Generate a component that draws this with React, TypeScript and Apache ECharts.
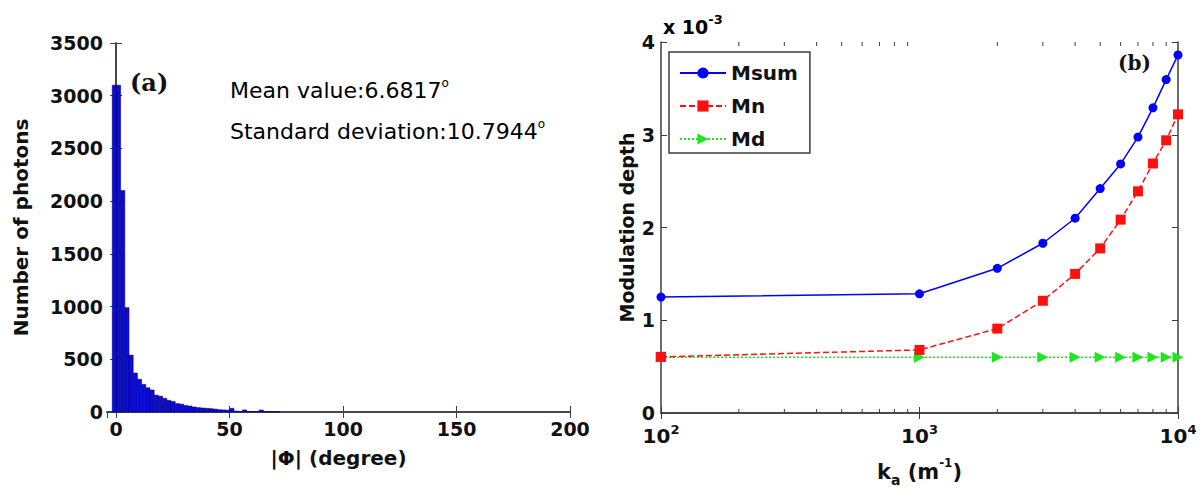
import React, { useEffect, useRef } from "react";
import * as echarts from "echarts";

// ---- Panel (a): histogram of |Φ| ----
const histBinStart = -1.7; // left edge of first bin (degree)
const histBinWidth = 1.85; // bin width (degree)
const histCounts = [
  3100, 3100, 2100, 990, 540, 370, 310, 262, 230, 209, 160, 150, 130, 110, 100,
  80, 75, 62, 57, 48, 42, 38, 35, 32, 28, 22, 20, 18, 35, 8, 5, 20, 5, 4, 5, 19,
  3, 2, 2, 1,
];
const histYTicks = [0, 500, 1000, 1500, 2000, 2500, 3000, 3500];

// ---- Panel (b): modulation depth (×10^-3) vs k_a ----
const kaValues = [100, 1000, 2000, 3000, 4000, 5000, 6000, 7000, 8000, 9000, 10000];
const msum = [1.25, 1.285, 1.56, 1.83, 2.1, 2.42, 2.685, 2.975, 3.29, 3.595, 3.86];
const mn = [0.605, 0.68, 0.91, 1.21, 1.5, 1.775, 2.085, 2.39, 2.69, 2.94, 3.22];
const md = [0.6, 0.6, 0.6, 0.6, 0.6, 0.6, 0.6, 0.6, 0.6, 0.6, 0.6];
const seriesNames = ["Msum", "Mn", "Md"];
const minorTickValues = [
  200, 300, 400, 500, 600, 700, 800, 900, 2000, 3000, 4000, 5000, 6000, 7000, 8000, 9000,
];

const FONT = "DejaVu Sans";
const SERIF = "DejaVu Serif";
const FRAME = "#3c3c3c";

export default function App() {
  const ref = useRef<HTMLDivElement>(null);

  useEffect(() => {
    if (!ref.current) return;
    const chart = echarts.init(ref.current, undefined, { renderer: "svg" });

    const tickLabel = {
      fontFamily: FONT,
      fontWeight: "bold" as const,
      fontSize: 19,
      color: "#111",
    };
    const frameAxisLine = { show: true, lineStyle: { color: FRAME, width: 1.5 } };
    const inTick = { show: true, inside: true, length: 6, lineStyle: { color: FRAME, width: 1 } };

    const histData = histCounts.map((c, i) => [
      histBinStart + i * histBinWidth,
      histBinStart + (i + 1) * histBinWidth,
      c,
    ]);

    const option: any = {
      animation: false,
      backgroundColor: "#fff",
      grid: [
        { left: 107, top: 43, width: 463, height: 369 },
        { left: 661, top: 42, width: 517, height: 371 },
      ],
      xAxis: [
        {
          gridIndex: 0,
          type: "value",
          min: -4,
          max: 200,
          splitNumber: 4,
          position: "bottom",
          axisLine: { show: true, lineStyle: { color: "#2a2ab4", width: 1.5 } },
          axisTick: inTick,
          axisLabel: {
            ...tickLabel,
            margin: 7,
            showMinLabel: false,
            formatter: (v: number) => (v % 50 === 0 ? String(v) : ""),
          },
          splitLine: { show: false },
          name: "|Φ| (degree)",
          nameLocation: "middle",
          nameGap: 36,
          nameTextStyle: { fontFamily: FONT, fontWeight: "bold", fontSize: 20, color: "#111" },
        },
        {
          gridIndex: 0,
          type: "value",
          min: -4,
          max: 200,
          splitNumber: 4,
          position: "top",
          axisLine: frameAxisLine,
          axisTick: inTick,
          axisLabel: { show: false },
          splitLine: { show: false },
        },
        {
          gridIndex: 1,
          type: "log",
          logBase: 10,
          min: 100,
          max: 10000,
          position: "bottom",
          axisLine: frameAxisLine,
          axisTick: inTick,
          axisLabel: {
            margin: 10,
            formatter: (v: number) => `{b|10}{s|${Math.round(Math.log10(v))}}`,
            rich: {
              b: { fontFamily: FONT, fontWeight: "bold", fontSize: 20, color: "#111", lineHeight: 26 },
              s: {
                fontFamily: FONT,
                fontWeight: "bold",
                fontSize: 13,
                color: "#111",
                verticalAlign: "top",
              },
            },
          },
          splitLine: { show: false },
          name: "{k|k}{sub|a}{k| (m}{sup|-1}{k|)}",
          nameLocation: "middle",
          nameGap: 44,
          nameTextStyle: {
            rich: {
              k: { fontFamily: FONT, fontWeight: "bold", fontSize: 21, color: "#111", lineHeight: 30 },
              sub: {
                fontFamily: FONT,
                fontWeight: "bold",
                fontSize: 14,
                color: "#111",
                verticalAlign: "bottom",
              },
              sup: {
                fontFamily: FONT,
                fontWeight: "bold",
                fontSize: 12,
                color: "#111",
                verticalAlign: "top",
              },
            },
          },
        },
        {
          gridIndex: 1,
          type: "log",
          logBase: 10,
          min: 100,
          max: 10000,
          position: "top",
          axisLine: frameAxisLine,
          axisTick: inTick,
          axisLabel: { show: false },
          splitLine: { show: false },
        },
      ],
      yAxis: [
        {
          gridIndex: 0,
          type: "value",
          min: histYTicks[0],
          max: histYTicks[histYTicks.length - 1],
          interval: 500,
          position: "left",
          axisLine: frameAxisLine,
          axisTick: inTick,
          axisLabel: { ...tickLabel, margin: 4, formatter: (v: number) => String(v) },
          splitLine: { show: false },
          name: "Number of photons",
          nameLocation: "middle",
          nameRotate: 90,
          nameGap: 76,
          nameTextStyle: { fontFamily: FONT, fontWeight: "bold", fontSize: 20, color: "#111" },
        },
        {
          gridIndex: 0,
          type: "value",
          min: 0,
          max: 3500,
          interval: 500,
          position: "right",
          axisLine: frameAxisLine,
          axisTick: inTick,
          axisLabel: { show: false },
          splitLine: { show: false },
        },
        {
          gridIndex: 1,
          type: "value",
          min: 0,
          max: 4,
          interval: 1,
          position: "left",
          axisLine: frameAxisLine,
          axisTick: inTick,
          axisLabel: { ...tickLabel, margin: 6, formatter: (v: number) => String(v) },
          splitLine: { show: false },
          name: "Modulation depth",
          nameLocation: "middle",
          nameRotate: 90,
          nameGap: 25,
          nameTextStyle: { fontFamily: FONT, fontWeight: "bold", fontSize: 19, color: "#111" },
        },
        {
          gridIndex: 1,
          type: "value",
          min: 0,
          max: 4,
          interval: 1,
          position: "right",
          axisLine: frameAxisLine,
          axisTick: inTick,
          axisLabel: { show: false },
          splitLine: { show: false },
        },
      ],
      legend: {
        data: seriesNames,
        orient: "vertical",
        left: 669,
        top: 52,
        itemWidth: 46,
        itemHeight: 14,
        itemGap: 13,
        padding: [11, 12, 4, 10],
        borderColor: FRAME,
        borderWidth: 1.5,
        backgroundColor: "#fff",
        textStyle: { fontFamily: FONT, fontWeight: "bold", fontSize: 20, color: "#111" },
      },
      series: [
        {
          type: "custom",
          name: "hist",
          xAxisIndex: 0,
          yAxisIndex: 0,
          data: histData,
          encode: { x: [0, 1], y: 2 },
          renderItem: (_params: any, api: any) => {
            const p0 = api.coord([api.value(0), api.value(2)]);
            const p1 = api.coord([api.value(1), 0]);
            return {
              type: "rect",
              shape: { x: p0[0], y: p0[1], width: p1[0] - p0[0], height: p1[1] - p0[1] },
              style: { fill: "#0b0bd6", stroke: "#00006e", lineWidth: 0.5 },
            };
          },
          z: 1,
        },
        {
          type: "line",
          name: seriesNames[0],
          xAxisIndex: 2,
          yAxisIndex: 2,
          data: kaValues.map((x, i) => [x, msum[i]]),
          symbol: "circle",
          symbolSize: 9,
          lineStyle: { color: "#0000ff", width: 1.5 },
          itemStyle: { color: "#0000ff" },
          z: 4,
        },
        {
          type: "line",
          name: seriesNames[1],
          xAxisIndex: 2,
          yAxisIndex: 2,
          data: kaValues.map((x, i) => [x, mn[i]]),
          symbol: "rect",
          symbolSize: 10,
          lineStyle: { color: "#ff1010", width: 1.5, type: [6, 3] },
          itemStyle: { color: "#ff1010" },
          z: 3,
        },
        {
          type: "line",
          name: seriesNames[2],
          xAxisIndex: 2,
          yAxisIndex: 2,
          data: kaValues.map((x, i) => [x, md[i]]),
          symbol: "triangle",
          symbolRotate: -90,
          symbolSize: 11,
          lineStyle: { color: "#1ee61e", width: 1.5, type: [2, 2] },
          itemStyle: { color: "#1ee61e" },
          z: 2,
        },
        {
          type: "custom",
          name: "minorTicks",
          xAxisIndex: 2,
          yAxisIndex: 2,
          data: minorTickValues.map((v) => [v]),
          encode: { x: 0 },
          clip: false,
          silent: true,
          z: 5,
          renderItem: (_params: any, api: any) => {
            const b = api.coord([api.value(0), 0]);
            const t = api.coord([api.value(0), 4]);
            const st = { stroke: FRAME, lineWidth: 1 };
            return {
              type: "group",
              children: [
                { type: "line", shape: { x1: b[0], y1: b[1], x2: b[0], y2: b[1] - 4 }, style: st },
                { type: "line", shape: { x1: t[0], y1: t[1], x2: t[0], y2: t[1] + 4 }, style: st },
              ],
            };
          },
        },
      ],
      graphic: [
        {
          type: "text",
          x: 130,
          y: 82,
          style: {
            text: "(a)",
            font: `bold 24px "${SERIF}"`,
            fill: "#111",
            verticalAlign: "middle",
          },
        },
        {
          type: "text",
          x: 230,
          y: 90,
          style: {
            text: "{t|Mean value:6.6817}{s|o}",
            verticalAlign: "middle",
            rich: {
              t: { fontFamily: FONT, fontSize: 22, color: "#000", lineHeight: 26 },
              s: { fontFamily: FONT, fontSize: 12, color: "#000", verticalAlign: "top" },
            },
          },
        },
        {
          type: "text",
          x: 230,
          y: 131,
          style: {
            text: "{t|Standard deviation:10.7944}{s|o}",
            verticalAlign: "middle",
            rich: {
              t: { fontFamily: FONT, fontSize: 22, color: "#000", lineHeight: 26 },
              s: { fontFamily: FONT, fontSize: 12, color: "#000", verticalAlign: "top" },
            },
          },
        },
        {
          type: "text",
          x: 663,
          y: 27,
          style: {
            text: "{t|x 10}{s|-3}",
            verticalAlign: "middle",
            rich: {
              t: { fontFamily: FONT, fontWeight: "bold", fontSize: 19, color: "#111", lineHeight: 28 },
              s: { fontFamily: FONT, fontWeight: "bold", fontSize: 13, color: "#111", verticalAlign: "top" },
            },
          },
        },
        {
          type: "text",
          x: 1118,
          y: 63,
          style: {
            text: "(b)",
            font: `bold 20px "${SERIF}"`,
            fill: "#111",
            verticalAlign: "middle",
          },
        },
      ],
    };

    chart.setOption(option);
    return () => chart.dispose();
  }, []);

  return (
    <div
      ref={ref}
      style={{ position: "fixed", left: 0, top: 0, width: 1203, height: 498, background: "#fff" }}
    />
  );
}
